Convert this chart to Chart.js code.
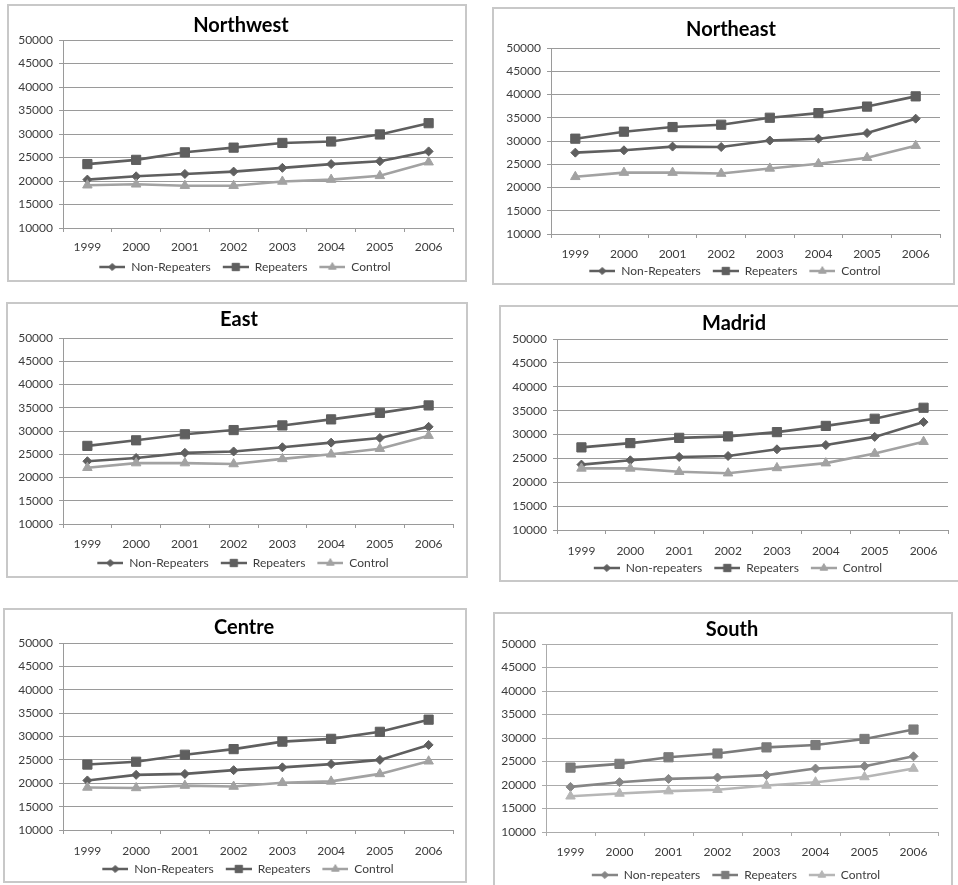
<!DOCTYPE html>
<html>
<head>
<meta charset="utf-8">
<script src="https://cdn.jsdelivr.net/npm/chart.js@4.4.1/dist/chart.umd.min.js"></script>
<style>
  html, body { margin: 0; padding: 0; background: #fff; }
  body { position: relative; width: 958px; height: 885px; overflow: hidden; }
  .frame { position: absolute; box-sizing: border-box; border: 2px solid #c8c8c8; }
  canvas { position: absolute; }
</style>
</head>
<body>
<script>
/* average earnings by region, 1999-2006 */
var years = ['1999', '2000', '2001', '2002', '2003', '2004', '2005', '2006'];
var yTicks = [10000, 50000, 5000];   // min, max, step

var nwNonRep  = [20300, 21000, 21500, 22000, 22800, 23600, 24200, 26300];
var nwRep     = [23600, 24500, 26100, 27100, 28100, 28400, 29900, 32300];
var nwControl = [19100, 19300, 19000, 19000, 19900, 20300, 21100, 24000];

var neNonRep  = [27500, 28000, 28800, 28700, 30100, 30500, 31700, 34800];
var neRep     = [30500, 32000, 33000, 33500, 35000, 36000, 37400, 39600];
var neControl = [22300, 23200, 23200, 23000, 24100, 25100, 26400, 29000];

var eaNonRep  = [23500, 24200, 25300, 25600, 26500, 27500, 28500, 30900];
var eaRep     = [26800, 28000, 29300, 30200, 31200, 32500, 33900, 35500];
var eaControl = [22100, 23100, 23100, 22900, 24000, 25000, 26200, 29000];

var maNonRep  = [23700, 24600, 25300, 25500, 26900, 27800, 29500, 32600];
var maRep     = [27300, 28200, 29300, 29600, 30500, 31800, 33300, 35600];
var maControl = [22900, 22900, 22200, 21900, 23000, 24000, 26000, 28500];

var ceNonRep  = [20600, 21800, 22000, 22800, 23400, 24100, 25000, 28200];
var ceRep     = [24000, 24600, 26100, 27300, 28900, 29500, 31000, 33600];
var ceControl = [19100, 19000, 19500, 19300, 20100, 20400, 22000, 24700];

var soNonRep  = [19600, 20600, 21300, 21600, 22100, 23500, 24000, 26100];
var soRep     = [23700, 24500, 25900, 26700, 28000, 28500, 29800, 31800];
var soControl = [17600, 18200, 18700, 19000, 19900, 20600, 21700, 23500];

var FONT = 'Lato, "Open Sans", sans-serif';

/* page geometry: frame box, plot area, title/legend centres (page px) */
var PANELS = [
  { title: 'Northwest', nonRepLabel: 'Non-Repeaters', data: [nwNonRep, nwRep, nwControl],
    box: [7, 4, 467, 282], plot: [63, 40, 453, 228], cx: 241, ty: 26, xy: 247, ly: 267 },
  { title: 'Northeast', nonRepLabel: 'Non-Repeaters', data: [neNonRep, neRep, neControl],
    box: [492, 7, 955, 285], plot: [551, 48, 940, 234], cx: 731, ty: 30, xy: 254, ly: 271 },
  { title: 'East', nonRepLabel: 'Non-Repeaters', data: [eaNonRep, eaRep, eaControl],
    box: [6, 302, 468, 578], plot: [63, 338, 453, 524], cx: 239, ty: 320, xy: 544, ly: 563 },
  { title: 'Madrid', nonRepLabel: 'Non-repeaters', data: [maNonRep, maRep, maControl],
    box: [499, 305, 975, 582], plot: [557, 339, 948, 530], cx: 734, ty: 324, xy: 551, ly: 568 },
  { title: 'Centre', nonRepLabel: 'Non-Repeaters', data: [ceNonRep, ceRep, ceControl],
    box: [3, 608, 467, 883], plot: [63, 643, 453, 830], cx: 244, ty: 628, xy: 851, ly: 869 },
  { title: 'South', nonRepLabel: 'Non-repeaters', data: [soNonRep, soRep, soControl],
    box: [493, 612, 953, 905], plot: [546, 644, 938, 832], cx: 732, ty: 630, xy: 852, ly: 875,
    light: true }
];

var INK = {
  dark: '#5f5f5f', ctrl: '#a2a2a2', grid: '#9a9a9a',
  soNon: '#868686', soRep: '#7b7b7b', soCtrl: '#b6b6b6', soGrid: '#ababab',
  tick: '#3c3c3c', legend: '#3c3c3c'
};

var STYLES = [
  { style: 'rectRot', radius: 4.5 },
  { style: 'rect', radius: 6.5 },
  { style: 'triangle', radius: 5.5 }
];

var ICON_W = 34, ICON_GAP = 8, LEG_PAD = 4;

/* legend swatch: a short line with the marker in the middle, like Excel */
function legendIcon(color, s) {
  var c = document.createElement('canvas');
  c.width = ICON_W; c.height = 12;
  var ctx = c.getContext('2d');
  ctx.strokeStyle = color; ctx.lineWidth = 2.5;
  ctx.beginPath(); ctx.moveTo(ICON_GAP, 6); ctx.lineTo(ICON_W, 6); ctx.stroke();
  ctx.fillStyle = color; ctx.strokeStyle = color; ctx.lineWidth = 1;
  Chart.helpers.drawPoint(ctx, { pointStyle: s.style, radius: s.radius * 0.8, rotation: 0, borderWidth: 1 },
    (ICON_GAP + ICON_W) / 2, 6);
  return c;
}

// widest y label, so mirrored ticks can be pushed back to the left of the axis
var measure = document.createElement('canvas').getContext('2d');
measure.font = '12px ' + FONT;
var yLabelW = measure.measureText('50000').width;

PANELS.forEach(function (p) {
  var L = p.box[0], T = p.box[1], R = p.box[2], B = p.box[3];
  var frame = document.createElement('div');
  frame.className = 'frame';
  frame.style.left = L + 'px'; frame.style.top = T + 'px';
  frame.style.width = (R - L) + 'px'; frame.style.height = (B - T) + 'px';
  document.body.appendChild(frame);

  var ox = L + 2, oy = T + 2;
  var cw = R - L - 4;
  var ch = p.ly + 18 - oy;
  var cv = document.createElement('canvas');
  cv.width = cw; cv.height = ch;
  cv.style.left = ox + 'px'; cv.style.top = oy + 'px';
  cv.style.width = cw + 'px'; cv.style.height = ch + 'px';
  document.body.appendChild(cv);

  var pL = p.plot[0] - ox, pT = p.plot[1] - oy, pR = p.plot[2] - ox, pB = p.plot[3] - oy;
  var padRight = cw - pR;
  var padLeft = Math.max(0, 2 * (p.cx - ox) - pR);   // centres title + legend
  var yWidth = pL - padLeft;
  var tc = p.ty - oy, lc = p.ly - oy, xc = p.xy - oy;
  var legendTop = lc - LEG_PAD - 6;

  var colors = p.light ? [INK.soNon, INK.soRep, INK.soCtrl] : [INK.dark, INK.dark, INK.ctrl];
  var grid = p.light ? INK.soGrid : INK.grid;
  var labels = [p.nonRepLabel, 'Repeaters', 'Control'];
  var icons = colors.map(function (c, i) { return legendIcon(c, STYLES[i]); });

  new Chart(cv.getContext('2d'), {
    type: 'line',
    data: {
      labels: years,
      datasets: p.data.map(function (d, i) {
        return {
          label: labels[i], data: d,
          borderColor: colors[i], backgroundColor: colors[i],
          borderWidth: 2.6, tension: 0,
          pointStyle: STYLES[i].style, pointRadius: STYLES[i].radius,
          pointBackgroundColor: colors[i], pointBorderColor: colors[i], pointBorderWidth: 1,
          order: 2 - i     // Control drawn on top, as in Excel
        };
      })
    },
    options: {
      responsive: false,
      animation: false,
      events: [],
      layout: { padding: { top: 0, left: padLeft, right: padRight, bottom: 2 } },
      plugins: {
        title: {
          display: true, text: p.title, color: '#000',
          font: { family: FONT, size: 20, weight: 'bold', lineHeight: 1.2 },
          padding: { top: tc - 12, bottom: pT - tc - 12 }
        },
        legend: {
          display: true, position: 'bottom',
          labels: {
            usePointStyle: true, pointStyleWidth: ICON_W, padding: LEG_PAD,
            color: INK.legend, font: { family: FONT, size: 12 },
            sort: function (a, b) { return a.datasetIndex - b.datasetIndex; },
            generateLabels: function (chart) {
              var items = Chart.defaults.plugins.legend.labels.generateLabels(chart);
              items.forEach(function (it) { it.pointStyle = icons[it.datasetIndex]; });
              return items;
            }
          }
        },
        tooltip: { enabled: false }
      },
      scales: {
        x: {
          offset: true,
          grid: { display: true, drawOnChartArea: false, drawTicks: true, tickLength: 4, offset: true, color: grid },
          border: { display: true, color: grid, width: 1 },
          ticks: { color: INK.tick, font: { family: FONT, size: 12, lineHeight: 1.2 }, padding: xc - pB - 4 - 7.2, maxRotation: 0 },
          afterFit: function (s) { s.height = legendTop - pB; }
        },
        y: {
          min: yTicks[0], max: yTicks[1],
          grid: { color: grid, lineWidth: 1, drawTicks: true, tickLength: 4 },
          border: { display: true, color: grid, width: 1 },
          ticks: {
            stepSize: yTicks[2], color: INK.tick, font: { family: FONT, size: 12 },
            mirror: true, crossAlign: 'far', padding: -(10 + yLabelW),
            callback: function (v) { return String(v); }
          },
          afterFit: function (s) { s.width = yWidth; }
        }
      }
    }
  });
});
</script>
</body>
</html>
